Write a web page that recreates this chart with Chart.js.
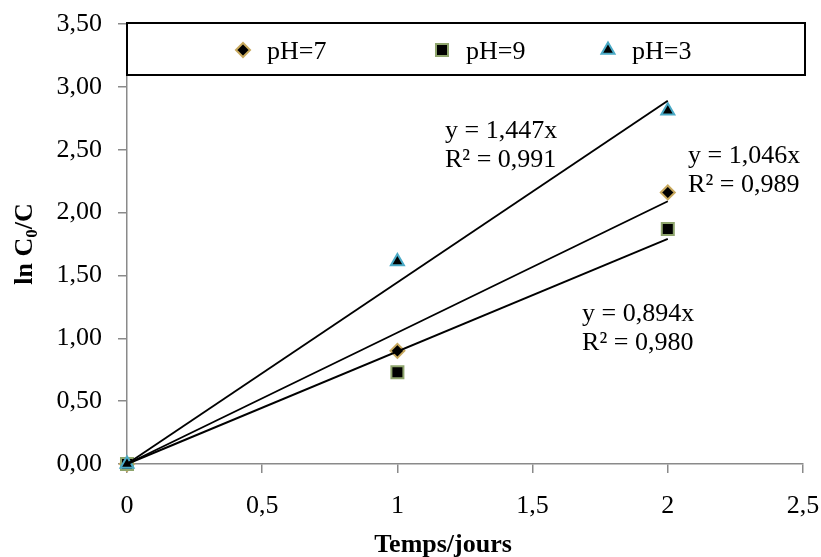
<!DOCTYPE html>
<html>
<head>
<meta charset="utf-8">
<script src="https://cdn.jsdelivr.net/npm/chart.js@4.4.1/dist/chart.umd.min.js"></script>
<style>
    html, body { margin: 0; padding: 0; background: #ffffff; }
    #wrap { width: 821px; height: 557px; }
</style>
</head>
<body>
<div id="wrap"><canvas id="kineticsChart" width="821" height="557"></canvas></div>
<script>
// temps (jours)
const days = [0, 1, 2];

// ln C0/C par pH
const ph7 = [0, 0.90, 2.16];
const ph9 = [0, 0.73, 1.87];
const ph3 = [0, 1.61, 2.81];

// droites de tendance (de x=0 à x=2)
const trendDays = [0, 2];
const trend7 = [0, 2.09];
const trend9 = [0, 1.79];
const trend3 = [0, 2.89];

const seriesLabels = ['pH=7', 'pH=9', 'pH=3'];

// équations affichées
const equations = [
    {lines: ['y = 1,447x', 'R² = 0,991'], x: 1.176, y: [2.593, 2.363]},
    {lines: ['y = 1,046x', 'R² = 0,989'], x: 2.075, y: [2.395, 2.164]},
    {lines: ['y = 0,894x', 'R² = 0,980'], x: 1.683, y: [1.138, 0.907]}
];

const serif = '"Liberation Serif", "Times New Roman", serif';
const axisGray = '#8a8a8a';
const fontSize = 26;

function toPoints(xs, ys) {
    return xs.map((x, i) => ({x: x, y: ys[i]}));
}

function frNumber(value, digits) {
    return Number(value).toFixed(digits).replace('.', ',');
}

const pointSets = [
    {label: seriesLabels[0], data: toPoints(days, ph7), pointStyle: 'rectRot', pointRadius: 7, borderColor: '#c8a95e', order: 3},
    {label: seriesLabels[1], data: toPoints(days, ph9), pointStyle: 'rect', pointRadius: 8.5, borderColor: '#8fa56d', order: 2},
    {label: seriesLabels[2], data: toPoints(days, ph3), pointStyle: 'triangle', pointRadius: 7.5, borderColor: '#4aaac6', order: 1}
].map(ds => Object.assign(ds, {
    showLine: false,
    clip: false,
    backgroundColor: '#000000',
    pointBorderWidth: 2,
    pointHoverRadius: ds.pointRadius
}));

const trendSets = [trend7, trend9, trend3].map(t => ({
    label: 'trend',
    data: toPoints(trendDays, t),
    showLine: true,
    clip: false,
    borderColor: '#000000',
    borderWidth: 1.9,
    pointRadius: 0,
    order: 0
}));

const legendBox = {
    id: 'legendBox',
    afterDraw(chart) {
        const c = chart.ctx;
        const area = chart.chartArea;
        const top = area.top - 1;
        const height = 52;

        c.save();
        c.fillStyle = '#ffffff';
        c.strokeStyle = '#000000';
        c.lineWidth = 2;
        c.fillRect(area.left, top, area.right - area.left + 2, height);
        c.strokeRect(area.left, top, area.right - area.left + 2, height);

        const markerX = [116, 315, 481];
        c.font = fontSize + 'px ' + serif;
        c.textBaseline = 'middle';
        pointSets.forEach((ds, i) => {
            const mx = area.left + markerX[i];
            const my = top + 27;
            c.fillStyle = ds.backgroundColor;
            c.strokeStyle = ds.borderColor;
            c.lineWidth = 2;
            Chart.helpers.drawPoint(c, {pointStyle: ds.pointStyle, radius: ds.pointRadius, borderWidth: 2}, mx, my);
            c.fillStyle = '#000000';
            c.textAlign = 'left';
            c.fillText(ds.label, mx + 24, my + 2);
        });
        c.restore();
    }
};

const textLayer = {
    id: 'textLayer',
    afterDraw(chart) {
        const c = chart.ctx;
        const xs = chart.scales.x;
        const ys = chart.scales.y;

        c.save();
        c.fillStyle = '#000000';
        c.textBaseline = 'alphabetic';
        c.textAlign = 'left';
        c.font = fontSize + 'px ' + serif;
        equations.forEach(eq => {
            eq.lines.forEach((line, i) => {
                c.fillText(line, xs.getPixelForValue(eq.x), ys.getPixelForValue(eq.y[i]));
            });
        });

        // titre axe x
        c.font = 'bold ' + fontSize + 'px ' + serif;
        c.textAlign = 'center';
        c.fillText('Temps/jours', 443, 552);

        // titre axe y : ln C0/C avec indice
        c.translate(32, (chart.chartArea.top + chart.chartArea.bottom) / 2);
        c.rotate(-Math.PI / 2);
        const main = 'ln C';
        const tail = '/C';
        c.font = 'bold ' + fontSize + 'px ' + serif;
        const w1 = c.measureText(main).width;
        const w3 = c.measureText(tail).width;
        c.font = 'bold 17px ' + serif;
        const w2 = c.measureText('0').width;
        let x0 = -(w1 + w2 + w3) / 2;
        c.textAlign = 'left';
        c.font = 'bold ' + fontSize + 'px ' + serif;
        c.fillText(main, x0, 0);
        c.font = 'bold 17px ' + serif;
        c.fillText('0', x0 + w1, 5);
        c.font = 'bold ' + fontSize + 'px ' + serif;
        c.fillText(tail, x0 + w1 + w2, 0);
        c.restore();
    }
};

let ctx = document.getElementById('kineticsChart').getContext('2d');
let kineticsChart = new Chart(ctx, {
    type: 'scatter',
    data: {
        datasets: pointSets.concat(trendSets)
    },
    options: {
        responsive: false,
        animation: false,
        events: [],
        layout: {
            padding: {top: 24, right: 18, left: 0, bottom: 0}
        },
        scales: {
            x: {
                type: 'linear',
                min: 0,
                max: 2.5,
                afterFit: function (scale) {
                    scale.height = 93;
                    scale.paddingLeft = 0;
                    scale.paddingRight = 0;
                },
                ticks: {
                    stepSize: 0.5,
                    color: '#000000',
                    padding: 18,
                    maxRotation: 0,
                    font: {family: serif, size: fontSize},
                    callback: function (value) {
                        return String(value).replace('.', ',');
                    }
                },
                grid: {
                    drawOnChartArea: false,
                    drawTicks: true,
                    tickLength: 9,
                    color: axisGray,
                    lineWidth: 1.5
                },
                border: {display: true, color: axisGray, width: 1.5}
            },
            y: {
                type: 'linear',
                min: 0,
                max: 3.5,
                afterFit: function (scale) {
                    scale.width = 127;
                    scale.paddingTop = 0;
                    scale.paddingBottom = 0;
                },
                ticks: {
                    stepSize: 0.5,
                    color: '#000000',
                    padding: 16,
                    font: {family: serif, size: fontSize},
                    callback: function (value) {
                        return frNumber(value, 2);
                    }
                },
                grid: {
                    drawOnChartArea: false,
                    drawTicks: true,
                    tickLength: 9,
                    color: axisGray,
                    lineWidth: 1.5
                },
                border: {display: true, color: axisGray, width: 1.5}
            }
        },
        plugins: {
            legend: {display: false},
            tooltip: {enabled: false},
            title: {display: false}
        }
    },
    plugins: [legendBox, textLayer]
});
</script>
</body>
</html>
